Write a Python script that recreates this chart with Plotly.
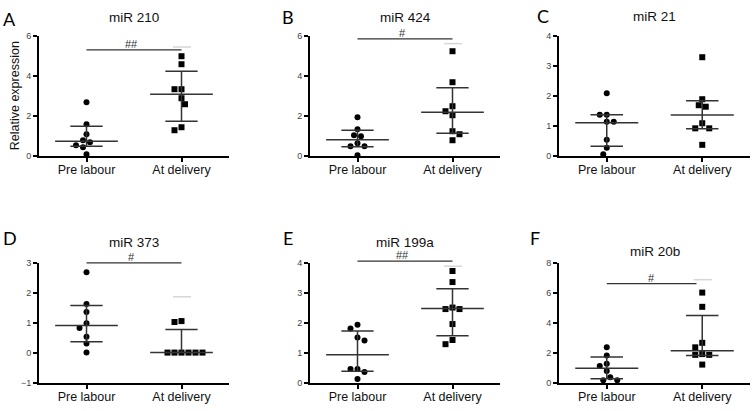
import plotly.graph_objects as go

W, H = 754, 411

categories = ["Pre labour", "At delivery"]
panel_letters = ["A", "B", "C", "D", "E", "F"]
panel_titles = ["miR 210", "miR 424", "miR 21", "miR 373", "miR 199a", "miR 20b"]

pre_labour = [
    [2.7, 1.6, 1.1, 0.8, 0.7, 0.55, 0.45, 0.1],
    [1.95, 1.35, 1.05, 1.0, 0.65, 0.5, 0.5, 0.05],
    [2.1, 1.38, 1.38, 1.15, 1.15, 0.55, 0.28, 0.07],
    [2.68, 1.62, 1.35, 0.98, 0.82, 0.53, 0.3, 0.0],
    [1.93, 1.8, 1.5, 1.4, 0.45, 0.45, 0.35, 0.12],
    [2.35, 1.8, 1.25, 1.1, 0.78, 0.35, 0.15, 0.15],
]
at_delivery = [
    [5.0, 4.6, 3.35, 3.35, 2.9, 2.6, 1.45, 1.3],
    [5.25, 3.7, 2.5, 2.25, 2.05, 1.25, 1.1, 0.8],
    [3.3, 1.9, 1.7, 1.65, 1.1, 0.93, 0.93, 0.38],
    [1.05, 1.02, 0.0, 0.0, 0.0, 0.0, 0.0, 0.0],
    [3.72, 3.35, 2.5, 2.45, 2.45, 1.95, 1.42, 1.28],
    [6.0, 5.05, 2.65, 2.35, 1.9, 1.85, 1.85, 1.2],
]
# centre line, lower, upper for each group
pre_stats = [
    (0.75, 0.5, 1.5),
    (0.82, 0.48, 1.3),
    (1.12, 0.33, 1.38),
    (0.9, 0.36, 1.57),
    (0.93, 0.38, 1.72),
    (0.95, 0.25, 1.7),
]
del_stats = [
    (3.1, 1.75, 4.25),
    (2.2, 1.15, 3.42),
    (1.37, 0.92, 1.85),
    (0.0, 0.0, 0.77),
    (2.47, 1.56, 3.13),
    (2.12, 1.8, 4.47),
]
y_ranges = [(0, 6), (0, 6), (0, 4), (-1, 3), (0, 4), (0, 8)]
y_dtick = [2, 2, 1, 1, 1, 2]
sig_labels = ["##", "#", None, "#", "##", "#"]
sig_heights = [5.32, 5.87, None, 2.99, 4.05, 6.6]
sig_x_end = [1.0, 1.0, None, 1.0, 1.0, 0.94]
faint_heights = [5.46, 5.63, None, 1.86, 3.88, 6.86]

# layout (pixels)
col_px = [(39, 229), (310, 500), (559, 750)]
row_px = [(32, 155), (264, 387)]
title_y_px = [13, 13, 12, 243, 243, 253]
letter_px = [(9, 14), (288, 12), (543, 11), (10, 239), (288, 239), (535, 239)]

DARK = "#333333"


def fx(px):
    return px / W


def fy(py):
    return 1 - py / H


def swarm(vals, ppu_y, ppu_x, d=7.0):
    s = d / 2
    order = sorted(range(len(vals)), key=lambda i: -vals[i])
    placed = []
    offs = [0.0] * len(vals)
    last = 1
    for i in order:
        y = vals[i] * ppu_y
        k = 0
        while True:
            if k == 0:
                cands = [0.0]
            else:
                cands = [-k * s, k * s] if last > 0 else [k * s, -k * s]
            ok = None
            for c in cands:
                if all((c - px) ** 2 + (y - py) ** 2 >= d * d - 1e-9 for px, py in placed):
                    ok = c
                    break
            if ok is not None:
                break
            k += 1
        placed.append((ok, y))
        offs[i] = ok / ppu_x
        if ok != 0:
            last = 1 if ok > 0 else -1
    return offs


fig = go.Figure()
layout = dict(
    width=W, height=H, margin=dict(l=0, r=0, t=0, b=0),
    paper_bgcolor="white", plot_bgcolor="white", showlegend=False,
    font=dict(family="Liberation Sans, Arial, sans-serif", color="black"),
)
shapes, annotations = [], []

for p in range(6):
    r, c = divmod(p, 3)
    n = p + 1
    xa = "x" if n == 1 else f"x{n}"
    ya = "y" if n == 1 else f"y{n}"
    x0p, x1p = col_px[c]
    y0p, y1p = row_px[r]
    lo, hi = y_ranges[p]
    ppu_y = (y1p - y0p) / (hi - lo)
    ppu_x = (x1p - x0p) / 2.0

    for ci, (vals, stats, sym) in enumerate(
        [(pre_labour[p], pre_stats[p], "circle"), (at_delivery[p], del_stats[p], "square")]
    ):
        offs = swarm(vals, ppu_y, ppu_x)
        fig.add_trace(go.Scatter(
            x=[ci + o for o in offs], y=vals, mode="markers",
            marker=dict(symbol=sym, size=6, color="black", line=dict(width=0)),
            xaxis=xa, yaxis=ya, cliponaxis=False, hoverinfo="skip",
        ))
        mid, low, up = stats
        wm, wc = 0.33, 0.17
        fig.add_trace(go.Scatter(
            x=[ci - wm, ci + wm, None, ci - wc, ci + wc, None, ci - wc, ci + wc, None, ci, ci],
            y=[mid, mid, None, low, low, None, up, up, None, low, up],
            mode="lines", line=dict(color=DARK, width=1.5),
            xaxis=xa, yaxis=ya, hoverinfo="skip",
        ))

    ax_common = dict(showgrid=False, zeroline=False, showline=True, linecolor="black",
                     linewidth=2, ticks="outside", ticklen=4, tickwidth=1.5, tickcolor="black")
    layout["xaxis" if n == 1 else f"xaxis{n}"] = dict(
        ax_common, domain=[fx(x0p), fx(x1p)], range=[-0.5, 1.5], anchor=ya,
        tickvals=[0, 1], ticktext=categories, tickfont=dict(size=12.5, color="#111"),
        ticklabelstandoff=-3,
    )
    layout["yaxis" if n == 1 else f"yaxis{n}"] = dict(
        ax_common, domain=[fy(y1p), fy(y0p)], range=[lo, hi], anchor=xa,
        dtick=y_dtick[p], tick0=lo, tickfont=dict(size=9, color="#444"),
    )

    if sig_labels[p]:
        yd = (sig_heights[p] - lo) / (hi - lo)
        shapes.append(dict(type="line", xref=xa, yref=f"{ya} domain",
                           x0=0, x1=sig_x_end[p], y0=yd, y1=yd,
                           line=dict(color=DARK, width=1.2)))
        fd = (faint_heights[p] - lo) / (hi - lo)
        shapes.append(dict(type="line", xref=xa, yref=f"{ya} domain",
                           x0=0.91, x1=1.1, y0=fd, y1=fd,
                           line=dict(color="#d6d6d6", width=1.5)))
        annotations.append(dict(text=sig_labels[p], xref=xa, yref=f"{ya} domain",
                                x=0.47, y=yd, yanchor="bottom", showarrow=False,
                                yshift=-2, font=dict(size=11, color=DARK)))

    annotations.append(dict(text=panel_titles[p], xref="paper", yref="paper",
                            x=fx((x0p + x1p) / 2), y=fy(title_y_px[p]),
                            xanchor="center", yanchor="middle", showarrow=False,
                            font=dict(size=13.5, color="#111")))
    lx, ly = letter_px[p]
    annotations.append(dict(text=panel_letters[p], xref="paper", yref="paper",
                            x=fx(lx), y=fy(ly), xanchor="center", yanchor="middle",
                            showarrow=False, font=dict(family="Lato, sans-serif", size=18, color="black")))

annotations.append(dict(text="Relative expression", xref="paper", yref="paper",
                        x=fx(15), y=fy((row_px[0][0] + row_px[0][1]) / 2), textangle=-90,
                        xanchor="center", yanchor="middle", showarrow=False,
                        font=dict(size=12.5, color="#111")))

layout["shapes"] = shapes
layout["annotations"] = annotations
fig.update_layout(**layout)
fig.write_html("out.html", config={"displayModeBar": False},
               post_script="document.body.style.margin='0px';")
